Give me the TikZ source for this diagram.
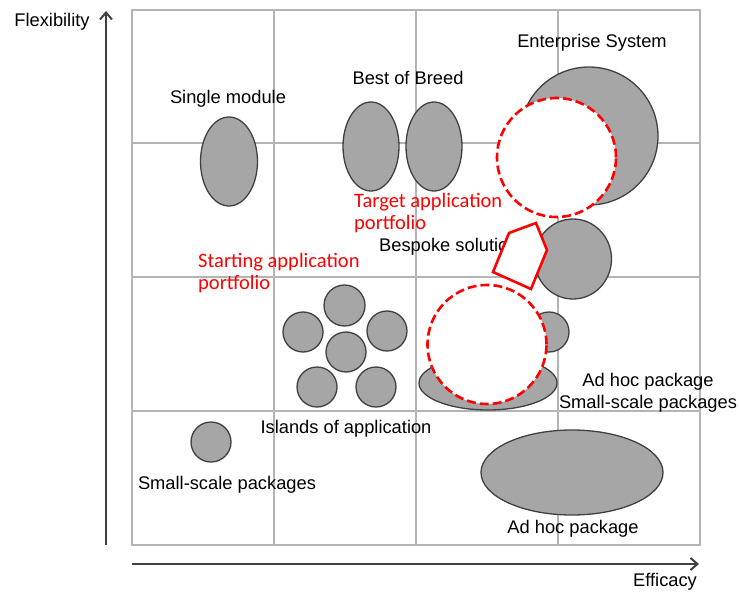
\documentclass[tikz,border=0pt]{standalone}
\usepackage{fontspec}
\setmainfont{Liberation Sans}
\newfontfamily\redfont{Carlito}
\usetikzlibrary{shapes.geometric,arrows.meta}
\definecolor{shapegray}{HTML}{A6A6A6}
\definecolor{edgegray}{HTML}{404040}
\definecolor{gridgray}{HTML}{B4B4B4}
\begin{document}
\begin{tikzpicture}[x=1bp,y=-1bp,
  gridline/.style={draw=gridgray,line width=1.6bp},
  blob/.style={ellipse,draw=edgegray,fill=shapegray,line width=1.3bp,inner sep=0pt,outer sep=0pt},
  target/.style={circle,draw=red,fill=white,line width=2.6bp,dash pattern=on 9bp off 4bp,inner sep=0pt,minimum size=119bp},
  axis/.style={draw=edgegray,line width=2.8bp,-{Straight Barb[length=7bp,width=12bp,line width=2bp]}},
  lbl/.style={inner sep=0pt,font=\fontsize{18.3bp}{22bp}\selectfont,text=black,align=center},
  redlbl/.style={inner sep=0pt,font=\redfont\fontsize{20.5bp}{22bp}\selectfont,text=red,align=left,anchor=north west}
]
\useasboundingbox (0,0) rectangle (739,592);
% grid
\draw[gridline] (132,10) rectangle (700,545);
\foreach \gx in {274,416,558} \draw[gridline] (\gx,10) -- (\gx,545);
\foreach \gy in {143,277,411} \draw[gridline] (132,\gy) -- (700,\gy);
% axes
\coordinate (yfrom) at (106,545);
\coordinate (yto) at (106,11);
\coordinate (xfrom) at (132,564);
\coordinate (xto) at (699,564);
\draw[axis] (yfrom) -- (yto);
\draw[axis] (xfrom) -- (xto);
\node[lbl] (flex) at (52,22) {Flexibility};
\node[lbl] (eff) at (665,582) {Efficacy};
% gray shapes
\node[blob,minimum width=57bp,minimum height=89bp] (single) at (229,161.5) {};
\node[blob,minimum width=56bp,minimum height=89bp] (breed1) at (371,146.5) {};
\node[blob,minimum width=56bp,minimum height=89bp] (breed2) at (434,146.5) {};
\node[blob,minimum width=138bp,minimum height=138bp] (enterprise) at (589,136) {};
\node[blob,minimum width=77bp,minimum height=80bp] (bespoke) at (573,259) {};
\node[blob,minimum width=40bp,minimum height=40bp] (small2) at (549,332) {};
\node[blob,minimum width=138bp,minimum height=54bp] (adhoc2) at (488,383) {};
\node[blob,minimum width=41bp,minimum height=41bp] (isl1) at (344.5,305.5) {};
\node[blob,minimum width=40bp,minimum height=40bp] (isl2) at (303,332) {};
\node[blob,minimum width=40bp,minimum height=40bp] (isl3) at (387,331) {};
\node[blob,minimum width=40bp,minimum height=40bp] (isl4) at (346,352) {};
\node[blob,minimum width=40bp,minimum height=40bp] (isl5) at (317,387) {};
\node[blob,minimum width=40bp,minimum height=40bp] (isl6) at (376,387) {};
\node[blob,minimum width=40bp,minimum height=40bp] (small1) at (211,442) {};
\node[blob,minimum width=182bp,minimum height=85bp] (adhoc1) at (572,472.5) {};
% labels
\node[lbl] (tsingle) at (228,99) {Single module};
\node[lbl] (tbreed) at (408,78) {Best of Breed};
\node[lbl] (tenter) at (592,43) {Enterprise System};
\node[lbl,anchor=west] (tbesp) at (379,247) {Bespoke solution};
\node[lbl] (tisl) at (346,429) {Islands of application};
\node[lbl] (tadhoc2) at (648,393) {Ad hoc package\\Small-scale packages};
\node[lbl] (tsmall1) at (227,485) {Small-scale packages};
\node[lbl] (tadhoc1) at (573,529) {Ad hoc package};
\node[redlbl] (ttarget) at (354,193) {Target application\\portfolio};
\node[redlbl] (tstart) at (198,253) {Starting application\\portfolio};
% red shapes
\node[target] (targetc) at (556.5,157.5) {};
\node[target] (startc) at (487,344.5) {};
\coordinate (p1) at (509,233);
\coordinate (p2) at (536,223);
\coordinate (p3) at (547,250);
\coordinate (p4) at (531,289);
\coordinate (p5) at (493,272);
\draw[red,fill=white,line width=2.6bp,line join=miter] (p1) -- (p2) -- (p3) -- (p4) -- (p5) -- cycle;
\end{tikzpicture}
\end{document}
